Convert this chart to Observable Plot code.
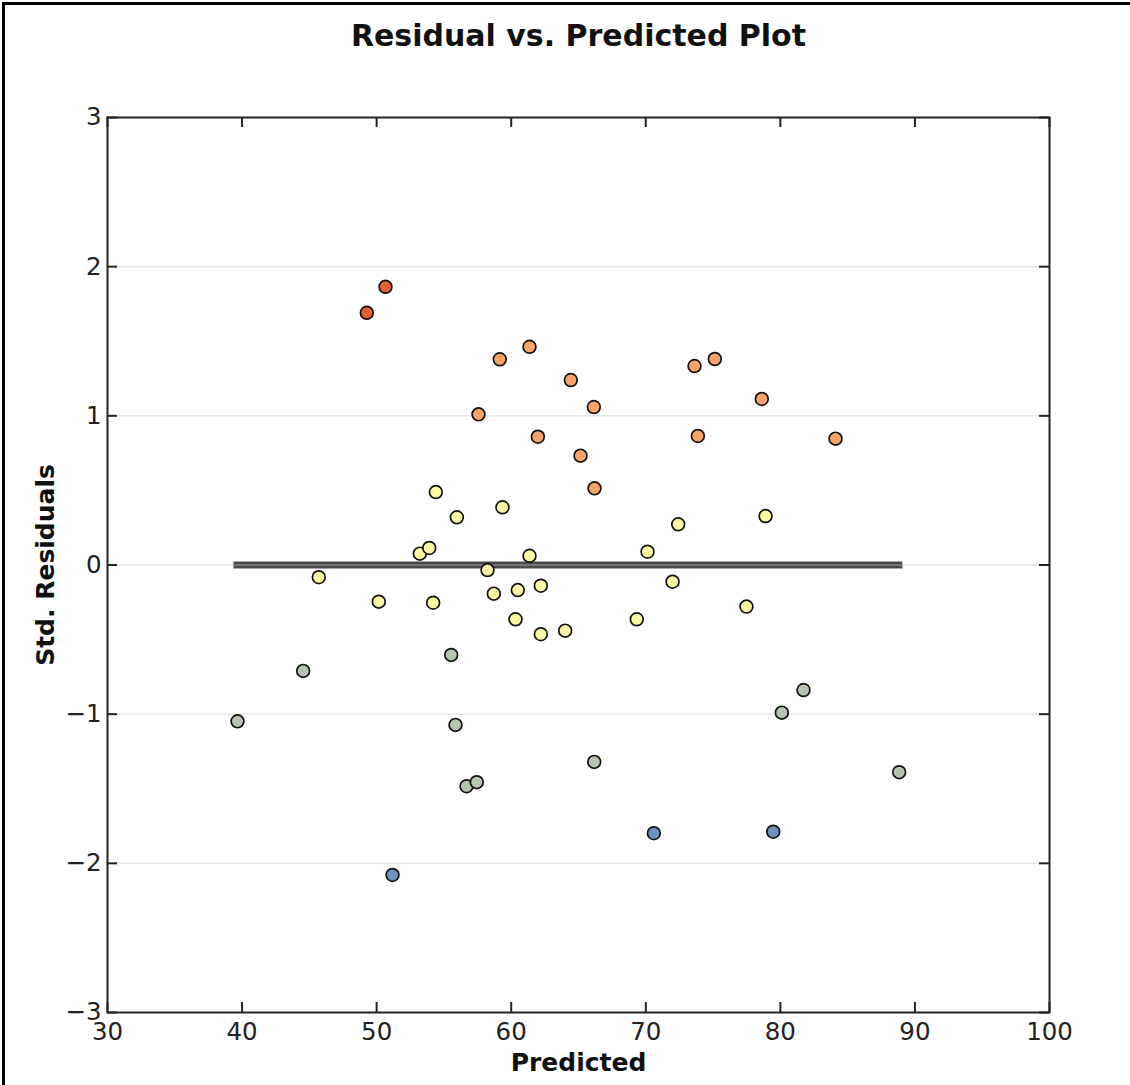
<!DOCTYPE html>
<html>
<head>
<meta charset="utf-8">
<script src="https://cdn.jsdelivr.net/npm/d3@7"></script>
<script src="https://cdn.jsdelivr.net/npm/@observablehq/plot@0.6"></script>
<style>
  html, body { margin: 0; padding: 0; background: #fff; overflow: hidden; }
  #wrap { position: relative; width: 1130px; height: 1085px; overflow: hidden; }
  #wrap svg { display: block; }
</style>
</head>
<body>
<div id="wrap"></div>
<script>
const predicted = [39.66, 44.54, 45.70, 49.27, 50.66, 50.16, 51.18, 53.21, 53.91, 54.20,
  54.40, 55.54, 55.86, 55.96, 56.68, 57.44, 57.57, 58.24, 58.71, 59.15,
  59.35, 60.49, 60.32, 61.36, 61.36, 61.98, 62.20, 62.20, 64.01, 64.43,
  65.15, 66.14, 66.19, 66.17, 69.33, 70.13, 70.60, 71.99, 72.41, 73.62,
  73.87, 75.13, 77.48, 78.62, 78.90, 79.47, 80.11, 81.72, 84.10, 88.83];
const residuals = [-1.048, -0.710, -0.082, 1.691, 1.865, -0.246, -2.078, 0.076, 0.114, -0.253,
  0.489, -0.603, -1.072, 0.320, -1.483, -1.456, 1.010, -0.034, -0.192, 1.379,
  0.387, -0.168, -0.364, 0.062, 1.463, 0.860, -0.139, -0.464, -0.440, 1.240,
  0.733, 1.059, 0.514, -1.320, -0.364, 0.089, -1.798, -0.112, 0.273, 1.334,
  0.865, 1.381, -0.279, 1.113, 0.328, -1.788, -0.990, -0.838, 0.847, -1.389];
const refLineX = [39.4, 89.1];
const xTicks = [30, 40, 50, 60, 70, 80, 90, 100];
const yTicks = [-3, -2, -1, 0, 1, 2, 3];
const gridLines = [-2, -1, 0, 1, 2];
const colorBreaks = [-1.5, -0.5, 0.5, 1.5];
const colorRange = ["#6f92bf", "#b6c5b2", "#fbf9a8", "#f6a46c", "#e5603c"];

const points = predicted.map((p, i) => ({predicted: p, residual: residuals[i]}));
const fmt = d => d < 0 ? "\u2212" + Math.abs(d) : String(d);

const W = 1130, H = 1085, mL = 107, mR = 81, mT = 117, mB = 73;
const fw = W - mL - mR, fh = H - mT - mB;

const chart = Plot.plot({
  width: W, height: H,
  marginLeft: mL, marginRight: mR, marginTop: mT, marginBottom: mB,
  style: {fontFamily: "DejaVu Sans", fontSize: "24px", color: "#222", background: "#fff"},
  x: {domain: [30, 100], label: null},
  y: {domain: [-3, 3], label: null},
  color: {type: "threshold", domain: colorBreaks, range: colorRange},
  marks: [
    Plot.ruleY(gridLines, {stroke: "#e6e6e6", strokeWidth: 1.5}),
    Plot.ruleY([0], {x1: refLineX[0], x2: refLineX[1], stroke: "#4a4a4a", strokeWidth: 7}),
    Plot.ruleY([0], {x1: refLineX[0], x2: refLineX[1], stroke: "#858585", strokeWidth: 1.5}),
    Plot.dot(points, {x: "predicted", y: "residual", r: 6.4, fill: d => d.residual, stroke: "#111", strokeWidth: 1.7}),
    Plot.frame({stroke: "#222", strokeWidth: 2}),
    Plot.tickY(yTicks, {y: d => d, insetRight: fw - 10, stroke: "#222", strokeWidth: 2}),
    Plot.tickY(yTicks, {y: d => d, insetLeft: fw - 10, stroke: "#222", strokeWidth: 2}),
    Plot.tickX(xTicks, {x: d => d, insetTop: fh - 10, stroke: "#222", strokeWidth: 2}),
    Plot.tickX(xTicks, {x: d => d, insetBottom: fh - 10, stroke: "#222", strokeWidth: 2}),
    Plot.axisX(xTicks, {anchor: "bottom", tickSize: 0, tickPadding: 10, tickFormat: fmt, fontSize: 24.5, label: null}),
    Plot.axisY(yTicks, {anchor: "left", tickSize: 0, tickPadding: 6, tickFormat: fmt, fontSize: 24.5, label: null}),
    Plot.text(["Residual vs. Predicted Plot"], {frameAnchor: "top", lineAnchor: "middle", textAnchor: "middle", dy: -81, text: d => d, fontSize: 30, fontWeight: "bold", fill: "#111"}),
    Plot.text(["Predicted"], {frameAnchor: "bottom", lineAnchor: "middle", textAnchor: "middle", dy: 50, text: d => d, fontSize: 25, fontWeight: "bold", fill: "#111"}),
    Plot.text(["Std. Residuals"], {frameAnchor: "left", lineAnchor: "middle", textAnchor: "middle", dx: -62, rotate: -90, text: d => d, fontSize: 25, fontWeight: "bold", fill: "#111"})
  ]
});
// outer figure border (left and top edges only, as in the reference)
d3.select(chart).append("path")
  .attr("d", `M3.5,${H} V3.5 H${W}`)
  .attr("fill", "none").attr("stroke", "#000").attr("stroke-width", 3);
document.getElementById("wrap").prepend(chart);
</script>
</body>
</html>
